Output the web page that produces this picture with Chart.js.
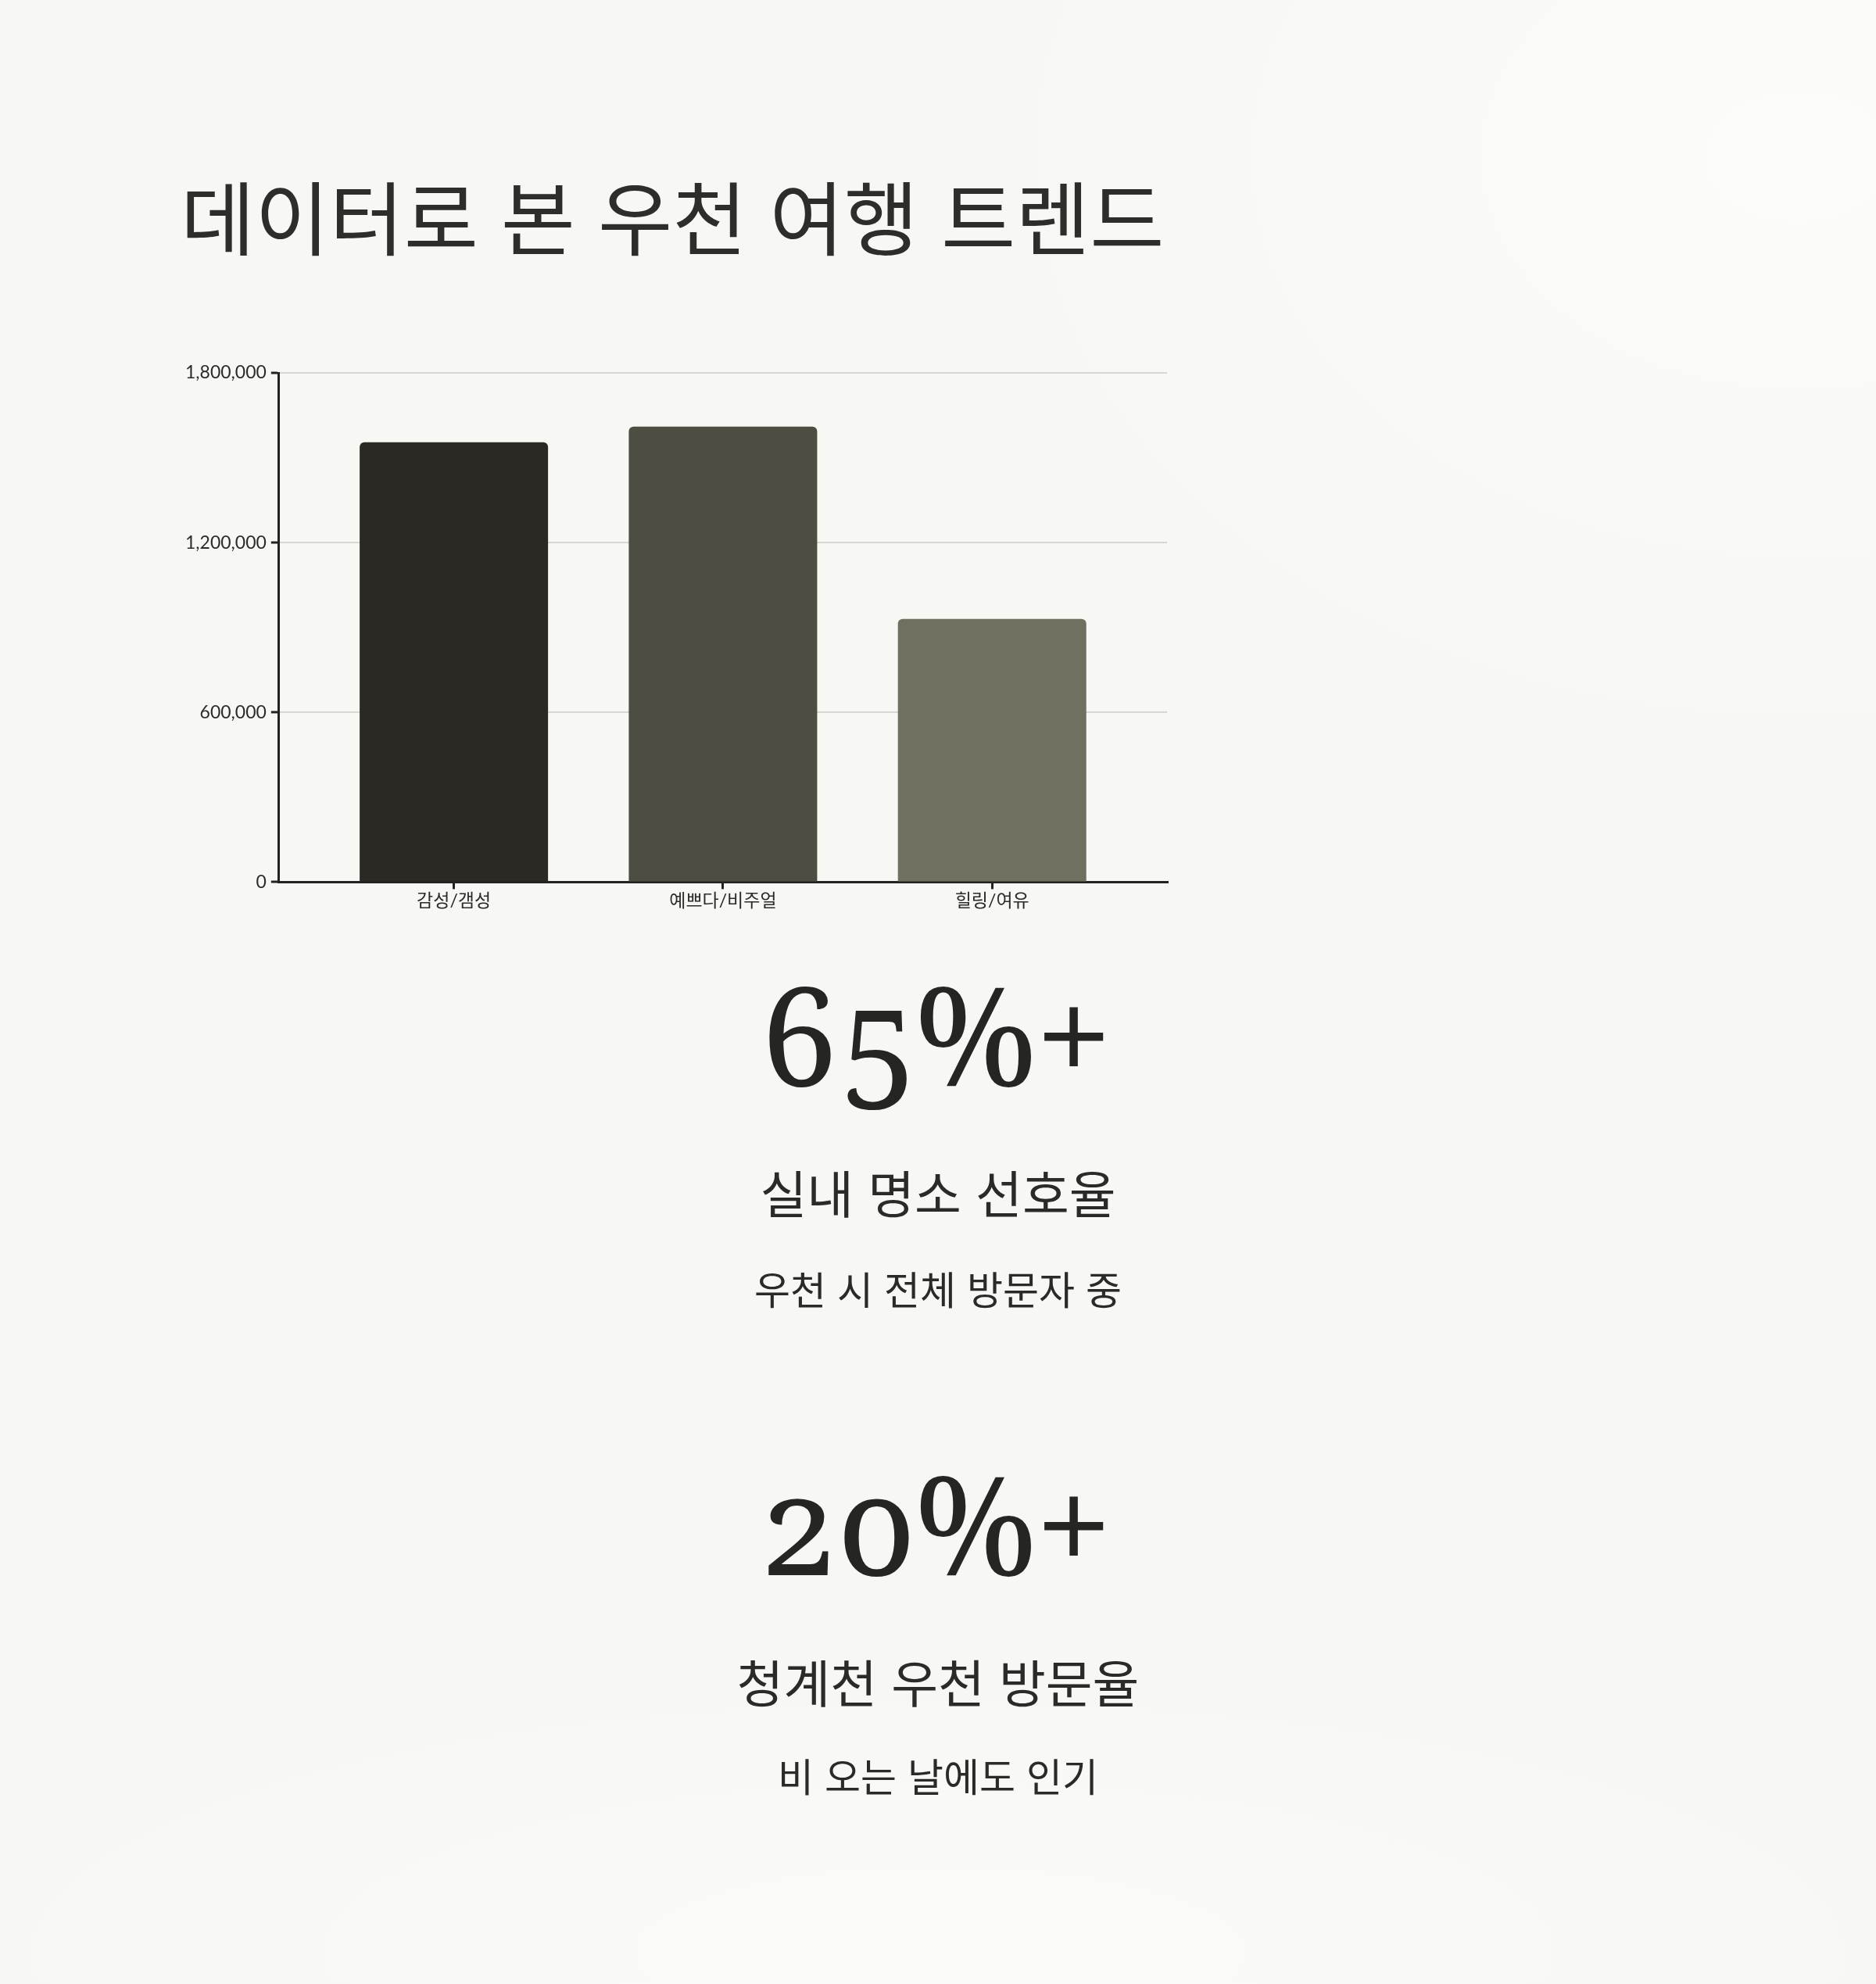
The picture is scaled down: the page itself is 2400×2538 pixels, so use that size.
<!DOCTYPE html>
<html lang="ko">
<head>
<meta charset="utf-8">
<script src="https://cdn.jsdelivr.net/npm/chart.js@4.4.1/dist/chart.umd.min.js"></script>
<style>
  html, body { margin: 0; padding: 0; }
  body {
    width: 2400px; height: 2538px; position: relative; overflow: hidden;
    background:
      radial-gradient(ellipse 1500px 1100px at 2300px 200px, rgba(252,252,250,0.9), rgba(252,252,250,0) 70%),
      radial-gradient(ellipse 1800px 500px at 1200px 2500px, rgba(252,252,250,0.8), rgba(252,252,250,0) 70%),
      #f7f7f4;
    font-family: "Noto Sans CJK KR", "Noto Sans", sans-serif;
    color: #2b2b29;
  }
  .title { position: absolute; left: 231px; top: 223px; font-size: 103.5px; line-height: 1; white-space: nowrap; color: #2d2d2a; }
  #chartBox { position: absolute; left: 222px; top: 450px; width: 1278px; height: 717px; }
  .c { position: absolute; left: 0; width: 2400px; text-align: center; line-height: 1; white-space: nowrap; }
  .num { width: 2392px; font-family: Georgia, "Noto Serif", "Liberation Serif", serif; font-variant-numeric: oldstyle-nums; font-size: 175px; letter-spacing: -2px; color: #252523; }
  .lbl { font-size: 65px; color: #2a2a28; }
  .sub { font-size: 50px; color: #2a2a28; }
</style>
</head>
<body>
<div class="title">데이터로 본 우천 여행 트렌드</div>
<div id="chartBox"><canvas id="chart"></canvas></div>

<div class="c num" style="top:1234px">65%+</div>
<div class="c lbl" style="top:1492px">실내 명소 선호율</div>
<div class="c sub" style="top:1622px">우천 시 전체 방문자 중</div>

<div class="c num" style="top:1860px">20%+</div>
<div class="c lbl" style="top:2118px">청계천 우천 방문율</div>
<div class="c sub" style="top:2245px">비 오는 날에도 인기</div>

<script>
const categories = ["감성/갬성", "예쁘다/비주얼", "힐링/여유"];
const values = [1555000, 1610000, 930000];
const barColors = ["#2a2924", "#4d4e41", "#6f705f"];
const yTicks = [0, 600000, 1200000, 1800000];

Chart.defaults.font.family = "Lato, 'Noto Sans CJK KR', sans-serif";
Chart.defaults.font.size = 23;
Chart.defaults.color = "#2b2b29";

new Chart(document.getElementById("chart"), {
  type: "bar",
  data: {
    datasets: [{
      data: categories.map((c, i) => ({ x: i, y: values[i] })),
      backgroundColor: barColors,
      borderRadius: 6,
      borderSkipped: "start",
      barPercentage: 0.7,
      categoryPercentage: 1
    }]
  },
  options: {
    responsive: true,
    maintainAspectRatio: false,
    animation: false,
    devicePixelRatio: 1,
    layout: { padding: { top: 27, right: 7, bottom: 0, left: 9 } },
    plugins: { legend: { display: false }, tooltip: { enabled: false } },
    scales: {
      x: {
        type: "linear",
        offset: false,
        min: -0.65,
        max: categories.length - 1 + 0.65,
        afterBuildTicks: (axis) => { axis.ticks = categories.map((c, i) => ({ value: i })); },
        grid: { display: true, offset: false, drawOnChartArea: false, drawTicks: true, tickLength: 9, tickColor: "#222220", lineWidth: 3 },
        border: { display: true, color: "#222220", width: 3 },
        ticks: { padding: 1, autoSkip: false, maxRotation: 0, callback: (v) => categories[v] }
      },
      y: {
        min: 0,
        max: yTicks[yTicks.length - 1],
        afterBuildTicks: (axis) => { axis.ticks = yTicks.map(v => ({ value: v })); },
        grid: { color: "#d6d6d2", lineWidth: 2, drawTicks: true, tickLength: 10, tickColor: "#222220", tickWidth: 3 },
        border: { display: true, color: "#222220", width: 3 },
        ticks: { padding: 6, callback: (v) => Number(v).toLocaleString("en-US") }
      }
    }
  }
});
</script>
</body>
</html>
